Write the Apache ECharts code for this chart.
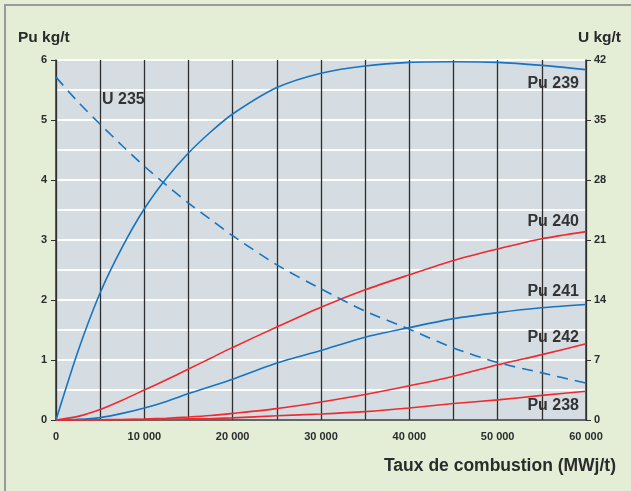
<!DOCTYPE html>
<html><head><meta charset="utf-8">
<script src="https://cdn.jsdelivr.net/npm/echarts@6/dist/echarts.min.js"></script>
<style>html,body{margin:0;padding:0;background:#e4eed7;}#c{width:631px;height:491px;}</style>
</head><body><div id="c"></div>
<script>
var burnup = [0,2500,5000,7500,10000,12500,15000,17500,20000,25000,30000,35000,40000,45000,50000,55000,60000];
var pu239 = [0,1.15,2.12,2.88,3.52,4.03,4.45,4.80,5.10,5.54,5.78,5.90,5.96,5.97,5.96,5.91,5.84];
var pu240 = [0,0.06,0.175,0.33,0.5,0.67,0.85,1.03,1.21,1.55,1.88,2.17,2.42,2.66,2.85,3.02,3.14];
var pu241 = [0,0.01,0.04,0.11,0.2,0.31,0.44,0.56,0.68,0.95,1.16,1.38,1.54,1.69,1.79,1.87,1.925];
var pu242 = [0,0.001,0.004,0.009,0.017,0.03,0.05,0.075,0.11,0.19,0.30,0.425,0.57,0.73,0.92,1.09,1.27];
var pu238 = [0,0.001,0.003,0.005,0.008,0.012,0.018,0.025,0.035,0.07,0.10,0.14,0.20,0.275,0.335,0.41,0.48];
var u235  = [40.0,37.1,34.5,32.0,29.6,27.4,25.3,23.4,21.5,18.1,15.3,12.7,10.6,8.4,6.7,5.5,4.3];
var seriesNames = ['Pu 239','Pu 240','Pu 241','Pu 242','Pu 238','U 235'];

function pairs(ys){ return burnup.map(function(x,i){return [x,ys[i]];}); }
var BLUE = '#1674c0', RED = '#ee2a2f', TXT = '#2b2b2b';
var tickFont = {fontFamily:'Liberation Sans Narrow, Liberation Sans, Arial', fontWeight:'bold', fontSize:11, color:TXT};
function fmtThousands(v){ return v === 0 ? '0' : (Math.floor(v/1000)) + ' 000'; }

var chart = echarts.init(document.getElementById('c'), null, {renderer:'canvas'});
function line(name, ys, color, axis, dashed){
  return {name:name, type:'line', yAxisIndex:axis||0, data:pairs(ys), smooth:0.25, showSymbol:false, symbol:'none',
    lineStyle:{color:color, width:1.6, type: dashed ? [11,7] : 'solid'}, z:5, silent:true};
}
var labelStyle = {fontFamily:'Liberation Sans, Arial', fontWeight:'bold', fontSize:16, fill:'#333'};
function lab(text, x, y, align){
  return {type:'text', x:x, y:y, z:100, style:Object.assign({text:text, textAlign:align||'right', textVerticalAlign:'middle'}, labelStyle)};
}
chart.setOption({
  animation:false,
  backgroundColor:'#e4eed7',
  grid:{left:56, right:45, top:60, bottom:71, show:true, backgroundColor:'#d5dde2', borderWidth:0},
  xAxis:{type:'value', min:0, max:60000, interval:5000,
    axisLine:{show:true, onZero:false, lineStyle:{color:'#333', width:1.5}},
    axisTick:{show:false},
    splitLine:{show:true, lineStyle:{color:'#2e2e2e', width:1.3}},
    axisLabel:Object.assign({margin:11, formatter:function(v){ return v % 10000 === 0 ? fmtThousands(v) : ''; }}, tickFont),
    name:'Taux de combustion (MWj/t)', nameLocation:'end', nameGap:0,
    nameTextStyle:{fontFamily:'Liberation Sans, Arial', fontWeight:'bold', fontSize:17.5, color:TXT, align:'right', verticalAlign:'top', padding:[37,-30,0,0]}
  },
  yAxis:[
    {type:'value', min:0, max:6, interval:1, position:'left',
      axisLine:{show:true, lineStyle:{color:'#333', width:1.5}},
      axisTick:{show:true, length:5, lineStyle:{color:'#333'}},
      minorTick:{show:false, splitNumber:2},
      splitLine:{show:true, lineStyle:{color:'#ffffff', width:2.2}},
      minorSplitLine:{show:true, lineStyle:{color:'#ffffff', width:2.2}},
      axisLabel:Object.assign({margin:9}, tickFont),
      name:'Pu kg/t', nameLocation:'end', nameGap:14,
      nameTextStyle:{fontFamily:'Liberation Sans, Arial', fontWeight:'bold', fontSize:15.5, color:TXT, align:'left', padding:[0,0,0,-38]}
    },
    {type:'value', min:0, max:42, interval:7, position:'right',
      axisLine:{show:true, lineStyle:{color:'#333', width:1.5}},
      axisTick:{show:true, length:5, lineStyle:{color:'#333'}},
      splitLine:{show:false},
      axisLabel:Object.assign({margin:8}, tickFont),
      name:'U kg/t', nameLocation:'end', nameGap:14,
      nameTextStyle:{fontFamily:'Liberation Sans, Arial', fontWeight:'bold', fontSize:15.5, color:TXT, align:'right', padding:[0,-35,0,0]}
    }
  ],
  series:[
    line(seriesNames[0], pu239, BLUE, 0),
    line(seriesNames[1], pu240, RED, 0),
    line(seriesNames[2], pu241, BLUE, 0),
    line(seriesNames[3], pu242, RED, 0),
    line(seriesNames[4], pu238, RED, 0),
    line(seriesNames[5], u235, BLUE, 1, true)
  ],
  graphic:[
    {type:'rect', shape:{x:5, y:5, width:700, height:600}, style:{fill:'none', stroke:'#9a9a9a', lineWidth:2}, z:-1, silent:true},
    lab('U 235', 102, 100, 'left'),
    lab('Pu 239', 579, 84),
    lab('Pu 240', 579, 222),
    lab('Pu 241', 579, 292),
    lab('Pu 242', 579, 338),
    lab('Pu 238', 579, 406)
  ]
});
</script></body></html>
